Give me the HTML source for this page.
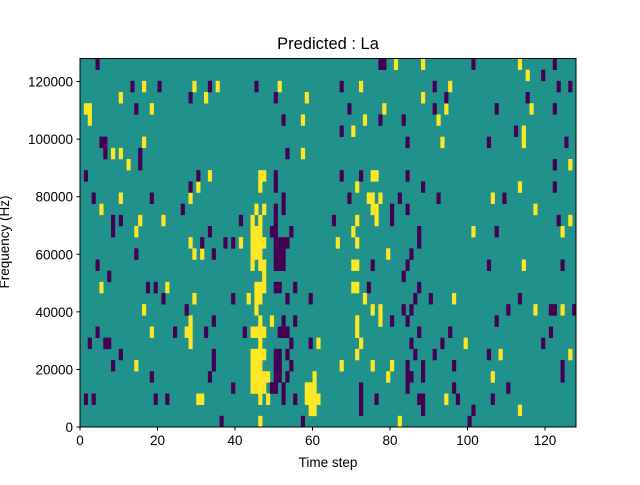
<!DOCTYPE html>
<html><head><meta charset="utf-8"><style>
body{margin:0;background:#fff;}
svg text{font-family:"Liberation Sans","DejaVu Sans",sans-serif;fill:#000;}
</style></head><body>
<svg id="chart" width="640" height="480" viewBox="0 0 640 480" xmlns="http://www.w3.org/2000/svg">
<rect x="0" y="0" width="640" height="480" fill="#fff"/>
<g id="cells"></g>
<rect x="80" y="58.5" width="496" height="368.5" fill="none" stroke="#000" stroke-width="1"/>
<g id="xticks"></g>
<g id="yticks"></g>
<text x="328" y="49" font-size="16.5" text-anchor="middle">Predicted : La</text>
<text x="328" y="467" font-size="13.5" text-anchor="middle">Time step</text>
<text x="0" y="0" font-size="13.5" text-anchor="middle" transform="translate(9,242) rotate(-90)">Frequency (Hz)</text>
</svg>
<script>
const nCols = 128;
const yMax = 128000;
const xTickValues = [0,20,40,60,80,100,120];
const yTickValues = [0,20000,40000,60000,80000,100000,120000];
// rows top (high freq) to bottom; yellow = +1 cells, purple = -1 cells (column indices)
const yellowRows = [
 [81,88,113],[115],[16,29,35,51,72,95],[10,32,58,88],[1,2,18,78,94,116],[2,57,73,92],[70,114],[16,93,114],
 [8,10,57],[12,126],[33,46,47,75,76],[30,46,71,113],[10,28,74,75,77,106],[5,45,47,75,76,117],[15,21,44,46,71,76,126],[14,44,45,46,70,101,124],
 [28,41,44,45,46,47,66,71],[29,31,44,45,46,79],[44,46,47,70,71,114],[47],[5,22,45,46,47,70,71],[29,43,45,46,73,96],[16,45,75,77,117,124],[28,46,49,71,77],
 [18,27,28,44,45,46,47,71],[28,46,61,72,99],[44,45,46,47,71,108,126],[14,44,45,46,67,75,80],[44,45,46,47,48,60,79,106],[44,45,46,47,58,59,60],[30,31,46,48,58,59,60,61,94],[59,60,113],[46,82]
];
const purpleRows = [
 [4,77,78,101,122],[119],[13,20,33,45,67,91,123,126],[28,50,94,115],[14,69,91,107,122],[52,77,83],[67,112],[5,6,84,105,125],
 [6,15,53],[15,122],[1,30,50,67,72,84],[28,50,88,122],[3,18,52,69,82,92,109],[26,50,52,80,84],[8,10,41,50,65,80,123],[8,33,49,50,54,87,107],
 [31,37,39,50,51,52,53,87],[14,34,50,51,52,85],[4,50,51,52,75,84,105,124],[7,83],[17,19,50,51,55,74,87],[21,39,53,59,86,90,113],[27,83,85,110,121,122,127],[34,52,55,80,84,107],
 [4,24,32,42,51,52,53,87,95,121],[2,6,7,54,59,85,93,119],[10,34,50,51,53,86,91,105],[8,34,50,51,54,84,88,96,124],[18,33,50,51,53,84,85,88,124],[39,49,50,52,72,84,96,110],[1,3,19,22,52,55,72,76,87,88,97,106],[72,88,101],[36,57,100]
];
const X0=80, X1=576, Y0=427, Y1=58.5;
const xs = c => X0 + c*(X1-X0)/nCols;
const ys = v => Y0 - v*(Y0-Y1)/yMax;
const nRows = yellowRows.length;
const rowH = (Y0-Y1)/nRows;
const NS="http://www.w3.org/2000/svg";
const cells=document.getElementById('cells');
const bg=document.createElementNS(NS,'rect');
bg.setAttribute('x',X0);bg.setAttribute('y',Y1);bg.setAttribute('width',X1-X0);bg.setAttribute('height',Y0-Y1);bg.setAttribute('fill','#21918c');


cells.appendChild(bg);
function addCell(r,c,color){
  const el=document.createElementNS(NS,'rect');
  el.setAttribute('x',xs(c));el.setAttribute('y',Y1+r*rowH);
  el.setAttribute('width',xs(c+1)-xs(c)+0.3);el.setAttribute('height',rowH+0.3);
  el.setAttribute('fill',color);
  
  
  cells.appendChild(el);
}
yellowRows.forEach((cols,r)=>cols.forEach(c=>addCell(r,c,'#fde725')));
purpleRows.forEach((cols,r)=>cols.forEach(c=>addCell(r,c,'#440154')));
const xg=document.getElementById('xticks');
xTickValues.forEach(v=>{
  const x=xs(v);
  const l=document.createElementNS(NS,'line');
  l.setAttribute('x1',x);l.setAttribute('x2',x);l.setAttribute('y1',427);l.setAttribute('y2',430.5);l.setAttribute('stroke','#000');
  
  
  xg.appendChild(l);
  const t=document.createElementNS(NS,'text');
  t.setAttribute('x',x);t.setAttribute('y',445);t.setAttribute('font-size','13.5');t.setAttribute('text-anchor','middle');
  t.textContent=v;
  
  
  xg.appendChild(t);
});
const yg=document.getElementById('yticks');
yTickValues.forEach(v=>{
  const y=ys(v);
  const l=document.createElementNS(NS,'line');
  l.setAttribute('x1',76.5);l.setAttribute('x2',80);l.setAttribute('y1',y);l.setAttribute('y2',y);l.setAttribute('stroke','#000');
  
  
  yg.appendChild(l);
  const t=document.createElementNS(NS,'text');
  t.setAttribute('x',73);t.setAttribute('y',y+5);t.setAttribute('font-size','13.5');t.setAttribute('text-anchor','end');
  t.textContent=v;
  
  
  yg.appendChild(t);
});
</script>
</body></html>
